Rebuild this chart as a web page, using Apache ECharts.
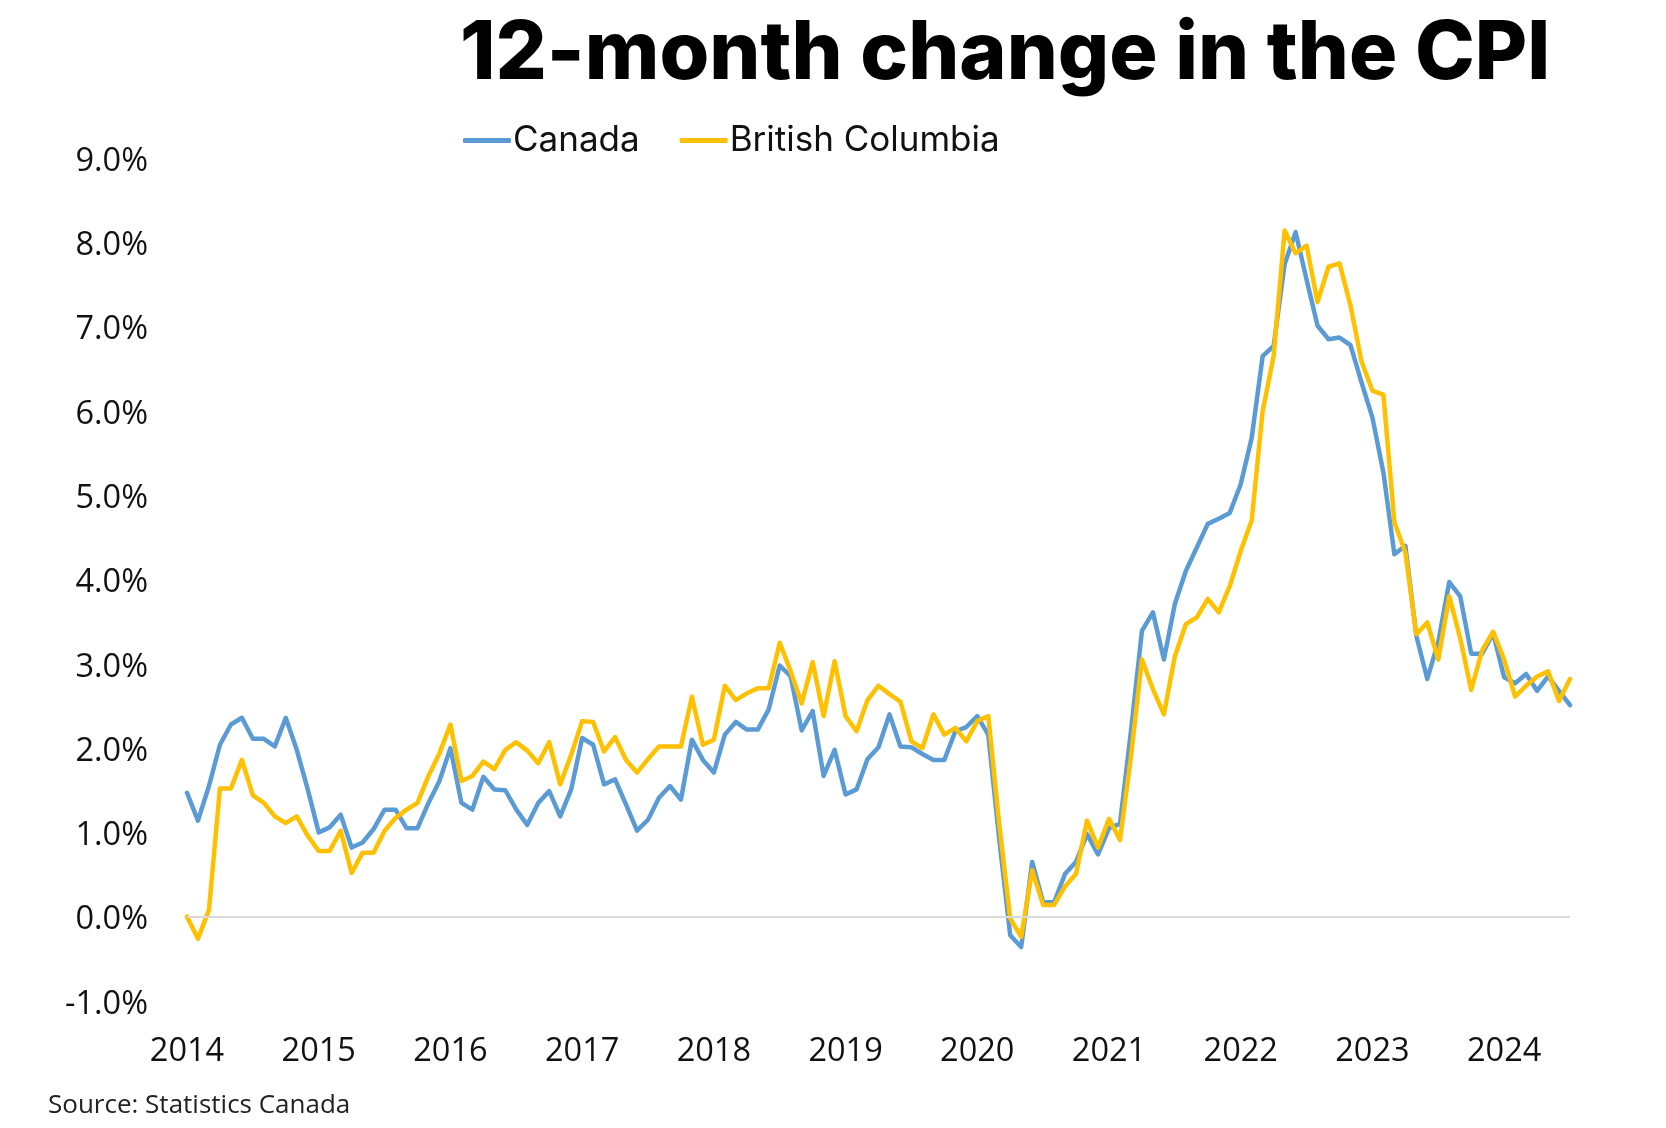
<!DOCTYPE html>
<html>
<head>
<meta charset="utf-8">
<script src="https://cdn.jsdelivr.net/npm/echarts@6/dist/echarts.min.js"></script>
<style>
html,body{margin:0;padding:0;background:#fff;}
#chart{width:1666px;height:1128px;}
</style>
</head>
<body>
<div id="chart"></div>
<script>
// Months Jan 2014 .. Jul 2024
const months = [];
for (let y = 2014; y <= 2024; y++) {
  for (let m = 1; m <= 12; m++) {
    if (y === 2024 && m > 7) break;
    months.push(y + '-' + (m < 10 ? '0' + m : m));
  }
}

const canada = [
  1.47, 1.14, 1.55, 2.04, 2.28, 2.36, 2.11, 2.11, 2.02, 2.36, 1.98, 1.51,
  1.00, 1.06, 1.21, 0.82, 0.88, 1.04, 1.27, 1.27, 1.05, 1.05, 1.35, 1.61,
  2.00, 1.35, 1.27, 1.66, 1.51, 1.50, 1.27, 1.09, 1.35, 1.49, 1.19, 1.51,
  2.12, 2.04, 1.57, 1.63, 1.33, 1.02, 1.15, 1.41, 1.55, 1.39, 2.10, 1.86,
  1.71, 2.16, 2.31, 2.22, 2.22, 2.46, 2.98, 2.85, 2.21, 2.44, 1.67, 1.98,
  1.45, 1.51, 1.87, 2.01, 2.40, 2.02, 2.01, 1.93, 1.86, 1.86, 2.20, 2.25,
  2.38, 2.16, 0.92, -0.22, -0.36, 0.65, 0.17, 0.17, 0.51, 0.65, 0.98, 0.74,
  1.05, 1.10, 2.20, 3.39, 3.61, 3.05, 3.71, 4.10, 4.38, 4.66, 4.72, 4.79,
  5.13, 5.68, 6.65, 6.77, 7.74, 8.12, 7.56, 7.01, 6.85, 6.87, 6.78, 6.34,
  5.92, 5.27, 4.30, 4.40, 3.33, 2.82, 3.26, 3.97, 3.80, 3.12, 3.12, 3.36,
  2.84, 2.77, 2.88, 2.68, 2.85, 2.68, 2.51
];

const britishColumbia = [
  0.00, -0.26, 0.08, 1.52, 1.52, 1.86, 1.44, 1.35, 1.19, 1.11, 1.19, 0.96,
  0.78, 0.78, 1.02, 0.52, 0.76, 0.76, 1.02, 1.17, 1.27, 1.35, 1.67, 1.94,
  2.28, 1.61, 1.67, 1.84, 1.75, 1.98, 2.07, 1.97, 1.82, 2.07, 1.57, 1.92,
  2.32, 2.31, 1.96, 2.13, 1.86, 1.71, 1.87, 2.02, 2.02, 2.02, 2.61, 2.04,
  2.10, 2.74, 2.57, 2.65, 2.71, 2.71, 3.25, 2.91, 2.53, 3.02, 2.38, 3.03,
  2.38, 2.20, 2.57, 2.74, 2.64, 2.55, 2.08, 2.00, 2.40, 2.16, 2.24, 2.08,
  2.32, 2.38, 1.10, -0.02, -0.24, 0.55, 0.14, 0.14, 0.36, 0.51, 1.14, 0.82,
  1.16, 0.91, 1.90, 3.05, 2.70, 2.40, 3.09, 3.47, 3.55, 3.77, 3.61, 3.92,
  4.34, 4.70, 6.00, 6.65, 8.14, 7.87, 7.96, 7.29, 7.71, 7.75, 7.25, 6.59,
  6.24, 6.19, 4.68, 4.32, 3.35, 3.49, 3.05, 3.80, 3.30, 2.69, 3.16, 3.38,
  3.05, 2.61, 2.74, 2.85, 2.91, 2.56, 2.82
];

const yTicks = { min: -1, max: 9, interval: 1 };
const titleText = '12-month change in the CPI';
const sourceText = 'Source: Statistics Canada';
const seriesNames = ['Canada', 'British Columbia'];

const chart = echarts.init(document.getElementById('chart'), null, { renderer: 'canvas' });
chart.setOption({
  backgroundColor: '#ffffff',
  animation: false,
  color: ['#5B9BD5', '#FFC000'],
  graphic: [
    {
      type: 'text', left: 460, top: 14,
      style: { text: titleText, font: '800 80.5px Inter', fill: '#000' }
    },
    {
      type: 'text', left: 48, top: 1093,
      style: { text: sourceText, font: '26px "Open Sans"', fill: '#222' }
    }
  ],
  legend: {
    data: seriesNames,
    left: 458, top: 118,
    icon: 'roundRect',
    itemWidth: 48, itemHeight: 5,
    itemGap: 40,
    textStyle: { fontFamily: 'Inter', fontSize: 35, color: '#111', padding: [0, 0, 0, -3] }
  },
  grid: { left: 187, right: 96, top: 158, bottom: 127 },
  xAxis: {
    type: 'category',
    data: months,
    boundaryGap: false,
    axisLine: { show: false, onZero: false },
    axisTick: { show: false },
    axisLabel: {
      interval: 11,
      margin: 34,
      fontFamily: 'Open Sans', fontSize: 32.5, color: '#111',
      formatter: v => v.slice(0, 4)
    },
    splitLine: { show: false }
  },
  yAxis: {
    type: 'value',
    min: yTicks.min, max: yTicks.max, interval: yTicks.interval,
    axisLine: { show: false },
    axisTick: { show: false },
    splitLine: { show: false },
    axisLabel: {
      margin: 39,
      fontFamily: 'Open Sans', fontSize: 32.5, color: '#111',
      formatter: v => '{a|' + v.toFixed(1) + '%}',
      rich: {
        a: { fontFamily: 'Open Sans', fontSize: 32.5, color: '#111', padding: [7, 0, 0, 0] }
      }
    }
  },
  series: [
    {
      name: seriesNames[0], type: 'line', data: canada,
      symbol: 'none', lineStyle: { width: 4.5, cap: 'round', join: 'round' },
      markLine: {
        silent: true, symbol: 'none', label: { show: false },
        lineStyle: { color: '#d9d9d9', width: 2, type: 'solid' },
        data: [{ yAxis: 0 }]
      },
      z: 3
    },
    {
      name: seriesNames[1], type: 'line', data: britishColumbia,
      symbol: 'none', lineStyle: { width: 4.5, cap: 'round', join: 'round' },
      z: 4
    }
  ]
});
</script>
</body>
</html>
